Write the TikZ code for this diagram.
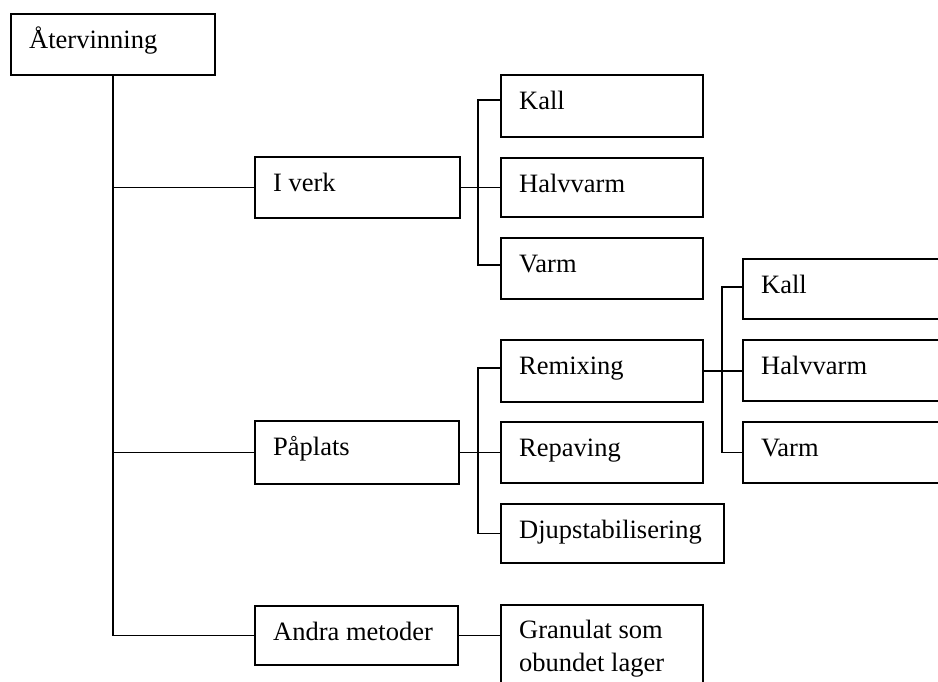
\documentclass[tikz,border=0pt]{standalone}
\usepackage{fontspec}
\setmainfont{Liberation Serif}
\tikzset{
  box/.style={draw, line width=1.9pt, anchor=north west, inner sep=0pt},
  lbl/.style={anchor=base west, inner sep=0pt, font=\fontsize{26.5}{33}\selectfont, align=left},
  conn/.style={line width=1.9pt}
}
\newcommand\mkbox[7][35]{%
  \node[box, minimum width={(#5-#3)*1pt}, minimum height={(#6-#4)*1pt}] (#2) at (#3,#4) {};
  \node[lbl] (#2t) at (#3+19,#4+#1) {#7};
}
\begin{document}
\begin{tikzpicture}[x=1pt,y=-1pt]
\useasboundingbox (0,0) rectangle (938,681);
\clip (0,0) rectangle (938,681);
\fill[white] (0,0) rectangle (938,681);
% boxes
\mkbox{root}{10}{13}{214}{74}{Återvinning}
\mkbox{iverk}{254}{156}{459}{217}{I verk}
\mkbox{kalla}{500}{74}{702}{136}{Kall}
\mkbox{halva}{500}{157}{702}{216}{Halvvarm}
\mkbox{varma}{500}{237}{702}{298}{Varm}
\mkbox{paplats}{254}{420}{458}{483}{Påplats}
\mkbox{remix}{500}{339}{702}{401}{Remixing}
\mkbox{repav}{500}{421}{702}{482}{Repaving}
\mkbox{djup}{500}{503}{723}{562}{Djupstabilisering}
\mkbox{kallb}{742}{258}{980}{318}{Kall}
\mkbox{halvb}{742}{339}{980}{400}{Halvvarm}
\mkbox{varmb}{742}{421}{980}{482}{Varm}
\mkbox{andra}{254}{605}{457}{664}{Andra metoder}
\mkbox[67]{gran}{500}{604}{702}{720}{Granulat som\\obundet lager}
% connector ends
\coordinate (kallain) at ([yshift=6pt]kalla.west);
\coordinate (varmain) at ([yshift=3.5pt]varma.west);
\coordinate (remixin) at ([yshift=3pt]remix.west);
\coordinate (kallbin) at ([yshift=2pt]kallb.west);
% trunk
\draw[conn] (root.south) -- (root.south |- andra.west) -- (andra.west);
\draw[conn] (root.south |- iverk.west) -- (iverk.west);
\draw[conn] (root.south |- paplats.west) -- (paplats.west);
% I verk bus
\coordinate (busa) at (478,0);
\draw[conn] (iverk.east) -- (iverk.east -| halva.west);
\draw[conn] (kallain) -- (kallain -| busa) -- (varmain -| busa) -- (varmain);
% Paplats bus
\draw[conn] (paplats.east) -- (paplats.east -| repav.west);
\draw[conn] (remixin) -- (remixin -| busa) -- (djup.west -| busa) -- (djup.west);
% Remixing bus
\coordinate (busb) at (722,0);
\draw[conn] (remix.east) -- (remix.east -| halvb.west);
\draw[conn] (kallbin) -- (kallbin -| busb) -- (varmb.west -| busb) -- (varmb.west);
% Andra
\draw[conn] (andra.east) -- (andra.east -| gran.west);
\end{tikzpicture}
\end{document}
